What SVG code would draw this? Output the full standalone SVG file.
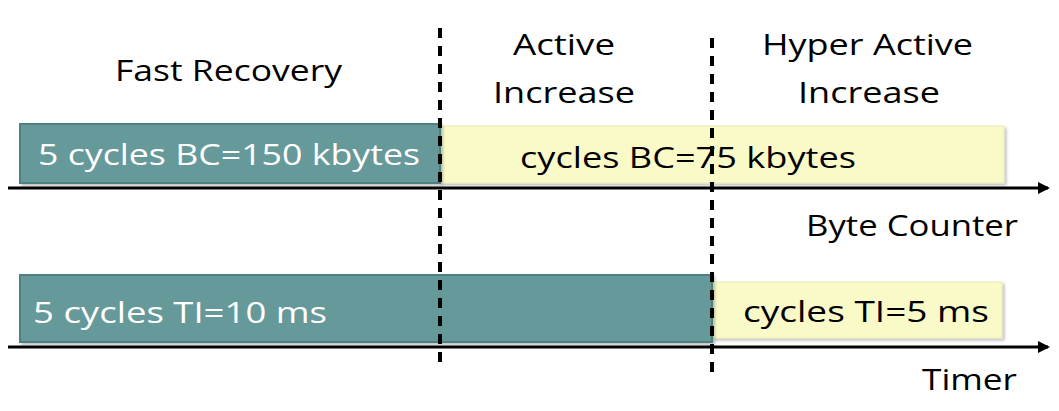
<svg xmlns="http://www.w3.org/2000/svg" width="1059" height="411" viewBox="0 0 1059 411">
<style>
.t{font-family:"Comic Sans MS","Open Sans","Liberation Sans",sans-serif;font-size:30px;fill:#000}
.w{fill:#fff}
.teal{fill:#669999;stroke:#4f8080;stroke-width:2}
.yel{fill:#fafac8;stroke:#ecebb4;stroke-width:1}
.axis{stroke:#000;stroke-width:3;fill:none}
.dash{stroke:#000;stroke-width:4;stroke-dasharray:10 8;fill:none}
</style>
<defs>
<marker id="ah" markerWidth="12" markerHeight="12" refX="10" refY="6" orient="auto" markerUnits="userSpaceOnUse">
<path d="M0,0 L12,6 L0,12 Z" fill="#000"/>
</marker>
<filter id="sh" x="-5%" y="-20%" width="110%" height="140%">
<feDropShadow dx="2" dy="2" stdDeviation="1.5" flood-color="#000" flood-opacity="0.25"/>
</filter>
</defs>
<g id="node-fast-recovery-label"><text class="t" x="115" y="81" textLength="227" lengthAdjust="spacingAndGlyphs">Fast Recovery</text></g>
<g id="node-active-increase-label"><text class="t" x="513" y="55" textLength="102" lengthAdjust="spacingAndGlyphs">Active</text><text class="t" x="493" y="103" textLength="142" lengthAdjust="spacingAndGlyphs">Increase</text></g>
<g id="node-hyper-label"><text class="t" x="762" y="55" textLength="211" lengthAdjust="spacingAndGlyphs">Hyper Active</text><text class="t" x="798" y="103" textLength="142" lengthAdjust="spacingAndGlyphs">Increase</text></g>
<g id="node-bc-yellow"><rect class="yel" x="440" y="126" width="564" height="57" filter="url(#sh)"/><text class="t" x="688" y="168" text-anchor="middle" textLength="336" lengthAdjust="spacingAndGlyphs">cycles BC=75 kbytes</text></g>
<g id="node-bc-teal"><rect class="teal" x="20" y="124" width="420" height="59" filter="url(#sh)"/><text class="t w" x="229" y="165" text-anchor="middle" textLength="382" lengthAdjust="spacingAndGlyphs">5 cycles BC=150 kbytes</text></g>
<g id="node-byte-counter"><text class="t" x="1018" y="236" text-anchor="end" textLength="212" lengthAdjust="spacingAndGlyphs">Byte Counter</text></g>
<g id="node-ti-yellow"><rect class="yel" x="712" y="282" width="290" height="56" filter="url(#sh)"/><text class="t" x="866" y="322" text-anchor="middle" textLength="246" lengthAdjust="spacingAndGlyphs">cycles TI=5 ms</text></g>
<g id="node-ti-teal"><rect class="teal" x="20" y="275" width="692" height="67" filter="url(#sh)"/><text class="t w" x="33" y="323" textLength="294" lengthAdjust="spacingAndGlyphs">5 cycles TI=10 ms</text></g>
<g id="node-timer"><text class="t" x="1017" y="390" text-anchor="end" textLength="95" lengthAdjust="spacingAndGlyphs">Timer</text></g>
<g id="connectors">
<line class="axis" x1="8" y1="188" x2="1048" y2="188" marker-end="url(#ah)"/>
<line class="axis" x1="8" y1="347" x2="1048" y2="347" marker-end="url(#ah)"/>
<line class="dash" x1="440" y1="28" x2="440" y2="366"/>
<line class="dash" x1="712" y1="38" x2="712" y2="378"/>
</g>
</svg>
